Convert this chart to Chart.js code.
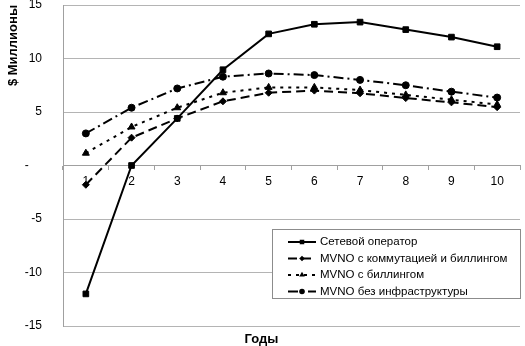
<!DOCTYPE html>
<html>
<head>
<meta charset="utf-8">
<script src="https://cdn.jsdelivr.net/npm/chart.js@4/dist/chart.umd.min.js"></script>
<style>
  html, body { margin: 0; padding: 0; background: #fff; }
  #wrap { width: 525px; height: 346px; }
</style>
</head>
<body>
<div id="wrap"><canvas id="chart" width="525" height="346"></canvas></div>
<script>
const years = ['1', '2', '3', '4', '5', '6', '7', '8', '9', '10'];
const seriesNames = ['Сетевой оператор', 'MVNO с коммутацией и биллингом', 'MVNO с биллингом', 'MVNO без инфраструктуры'];
const networkOperator = [-12.0, 0.0, 4.4, 8.95, 12.3, 13.2, 13.4, 12.7, 12.0, 11.1];
const mvnoSwitchBilling = [-1.8, 2.6, 4.4, 6.0, 6.8, 7.0, 6.75, 6.3, 5.9, 5.45];
const mvnoBilling = [1.15, 3.6, 5.4, 6.8, 7.3, 7.3, 7.05, 6.6, 6.15, 5.7];
const mvnoNoInfra = [3.0, 5.4, 7.2, 8.3, 8.6, 8.45, 8.0, 7.5, 6.9, 6.35];
const yTicks = [15, 10, 5, 0, -5, -10, -15];

const FONT = 'Arial, "Liberation Sans", sans-serif';

// legend drawn inside the plot, Excel-like box
const boxLegend = {
  id: 'boxLegend',
  afterDatasetsDraw(chart) {
    const ctx = chart.ctx;
    const area = chart.chartArea;
    const w = 248, h = 69;
    const x0 = area.right - w, y0 = area.top + 224;
    ctx.save();
    ctx.fillStyle = '#fff';
    ctx.fillRect(x0, y0, w, h);
    ctx.strokeStyle = '#8c8c8c';
    ctx.lineWidth = 1;
    ctx.strokeRect(x0 + 0.5, y0 + 0.5, w, h);
    chart.data.datasets.forEach(function (ds, i) {
      const cy = y0 + 13 + i * 16.5;
      ctx.strokeStyle = '#000';
      ctx.lineWidth = 2;
      ctx.setLineDash(ds.borderDash || []);
      ctx.beginPath();
      ctx.moveTo(x0 + 16, cy);
      ctx.lineTo(x0 + 44, cy);
      ctx.stroke();
      ctx.setLineDash([]);
      ctx.fillStyle = '#000';
      Chart.helpers.drawPoint(ctx, {pointStyle: ds.pointStyle, radius: ds.pointRadius * 0.8, rotation: 0}, x0 + 30, cy);
      ctx.font = '11.5px ' + FONT;
      ctx.textBaseline = 'middle';
      ctx.textAlign = 'left';
      ctx.fillText(ds.label, x0 + 48, cy);
    });
    ctx.restore();
  }
};

function makeSet(label, data, style, radius, dash) {
  return {
    label: label,
    data: data,
    borderColor: '#000',
    backgroundColor: '#000',
    borderWidth: 2,
    borderDash: dash,
    pointStyle: style,
    pointRadius: radius,
    pointBorderWidth: 1,
    pointBackgroundColor: '#000',
    pointBorderColor: '#000',
    tension: 0
  };
}

new Chart(document.getElementById('chart'), {
  type: 'line',
  data: {
    labels: years,
    datasets: [
      makeSet(seriesNames[0], networkOperator, 'rect', 4, []),
      makeSet(seriesNames[1], mvnoSwitchBilling, 'rectRot', 3.5, [9, 5]),
      makeSet(seriesNames[2], mvnoBilling, 'triangle', 4, [3, 5]),
      makeSet(seriesNames[3], mvnoNoInfra, 'circle', 3.5, [10, 4, 2, 4])
    ]
  },
  options: {
    responsive: false,
    animation: false,
    layout: { padding: { top: 4, right: 2, left: 0, bottom: 0 } },
    plugins: {
      legend: { display: false },
      tooltip: { enabled: false },
      title: {
        display: true,
        text: 'Годы',
        position: 'bottom',
        color: '#000',
        font: { family: FONT, size: 13, weight: 'bold', lineHeight: 1 },
        padding: { top: 7, bottom: 0 }
      }
    },
    scales: {
      x: {
        type: 'category',
        offset: true,
        position: { y: 0 },
        afterFit(scale) {
          scale.height = 0;
          scale.paddingLeft = 0;
          scale.paddingRight = 0;
        },
        border: { color: '#a0a0a0' },
        grid: { display: true, drawOnChartArea: false, drawTicks: true, tickLength: 4, offset: true, color: '#a0a0a0' },
        ticks: { color: '#000', font: { family: FONT, size: 12 }, padding: 5, maxRotation: 0 }
      },
      y: {
        min: -15,
        max: 15,
        afterBuildTicks(scale) { scale.ticks = yTicks.map(v => ({ value: v })); },
        afterFit(scale) {
          scale.width = 63;
          // tick padding would otherwise push the plot down
          scale.paddingTop = 0;
          scale.paddingBottom = 0;
        },
        border: { color: '#a0a0a0' },
        grid: { color: '#b4b4b4', drawTicks: false },
        ticks: {
          color: '#000',
          padding: 21,
          font: { family: FONT, size: 12 },
          callback: v => v === 0 ? '-    ' : String(v)
        },
        title: {
          display: true,
          text: '$ Миллионы',
          align: 'end',
          color: '#000',
          font: { family: FONT, size: 13, weight: 'bold' },
          padding: { top: 6, bottom: 0 }
        }
      }
    }
  },
  plugins: [boxLegend]
});
</script>
</body>
</html>
